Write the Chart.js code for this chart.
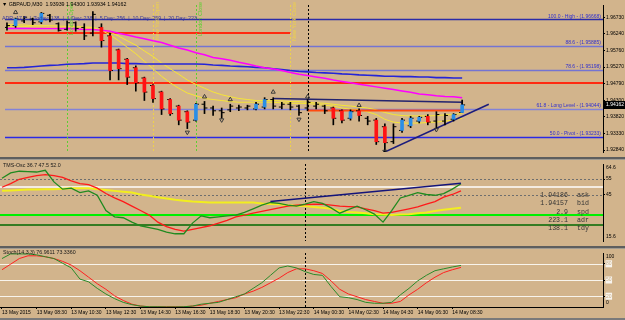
<!DOCTYPE html>
<html lang="en">
<head>
<meta charset="UTF-8">
<title>GBPAUD,M30</title>
<script src="https://cdn.jsdelivr.net/npm/chart.js"></script>
<style>
  body { margin: 0; background: #d2b48c; }
  #wrap { position: relative; width: 625px; height: 320px; overflow: hidden; background: #d2b48c;
          font-family: 'Liberation Sans', Arial, sans-serif; }
  #wrap canvas { position: absolute; left: 0; }
  .sep { position: absolute; left: 0; width: 625px; height: 3px; background: #5e5e5e;
         border-bottom: 1px solid #a09a90; box-sizing: border-box; z-index: 3; }
  .txt { position: absolute; white-space: pre; font-size: 5.3px; line-height: 6px; z-index: 4; }
  .info { position: absolute; white-space: pre; font-family: 'Liberation Mono', monospace;
          font-size: 6.6px; line-height: 8px; color: #333; z-index: 4; }
</style>
</head>
<body>
<div id="wrap">
  <canvas id="main" width="625" height="157" style="top:0"></canvas>
  <canvas id="osc" width="625" height="85" style="top:160px"></canvas>
  <canvas id="stoch" width="625" height="69" style="top:249px"></canvas>

  <div class="sep" style="top:157px"></div>
  <div class="sep" style="top:246px"></div>
  <div class="sep" style="top:318px; height:2px; background:#7a7a7a; border:0"></div>

  <div class="txt" style="left:2px; top:1px; color:#000">&#9660; GBPAUD,M30  1.93939 1.94300 1.93934 1.94162</div>
  <div class="txt" style="left:2px; top:15px; color:#3a3a9a">ADR: 17.5  |  Today: 138  |  1 Day: 238  |  5 Day: 256  |  10 Day: 259  |  20 Day: 223</div>
  <div class="txt" style="left:3px; top:162px; color:#1a1a1a">TMS-Osc 36.7 47.5 52.0</div>
  <div class="txt" style="left:3px; top:249px; color:#1a1a1a">Stoch(14,3,3) 76.9611 73.3360</div>
  <div id="info"></div>
</div>

<script>
// ---- data ----
const timeLabels = ['13 May 2015', '13 May 08:30', '13 May 10:30', '13 May 12:30', '13 May 14:30',
  '13 May 16:30', '13 May 18:30', '13 May 20:30', '13 May 22:30', '14 May 00:30',
  '14 May 02:30', '14 May 04:30', '14 May 06:30', '14 May 08:30'];
const timeTickIdx = [0, 4, 8, 12, 16, 20, 24, 28, 32, 36, 40, 44, 48, 52];
const priceTicks = [1.96730, 1.96240, 1.95760, 1.95270, 1.94790, 1.94300, 1.93820, 1.93330, 1.92840];

const barOpen = [1.96429, 1.96483, 1.96620, 1.96675, 1.96593, 1.96785, 1.96538, 1.96374, 1.96566, 1.96429,
  1.96264, 1.96429, 1.96182, 1.95771, 1.95497, 1.95250, 1.94949, 1.94730, 1.94538, 1.94319,
  1.94127, 1.93963, 1.93716, 1.94182, 1.94072, 1.93990, 1.94017, 1.94072, 1.94072, 1.94045,
  1.94100, 1.94319, 1.94100, 1.94182, 1.94127, 1.94072, 1.94127, 1.94127, 1.94072, 1.93990,
  1.93771, 1.93990, 1.93771, 1.93716, 1.93524, 1.93086, 1.93415, 1.93552, 1.93689, 1.93826,
  1.93689, 1.93689, 1.93743, 1.93939];
const barHigh = [1.96566, 1.96703, 1.96757, 1.96703, 1.96867, 1.96812, 1.96566, 1.96620, 1.96593, 1.96538,
  1.96894, 1.96538, 1.96264, 1.95798, 1.95524, 1.95305, 1.94976, 1.94757, 1.94565, 1.94346,
  1.94154, 1.93990, 1.94209, 1.94264, 1.94127, 1.94072, 1.94182, 1.94154, 1.94154, 1.94237,
  1.94374, 1.94374, 1.94237, 1.94237, 1.94154, 1.94319, 1.94237, 1.94154, 1.94100, 1.94017,
  1.94017, 1.94045, 1.93826, 1.93771, 1.93606, 1.93606, 1.93771, 1.93826, 1.93826, 1.93880,
  1.93963, 1.93908, 1.93908, 1.94300];
const barLow = [1.96346, 1.96429, 1.96566, 1.96511, 1.96538, 1.96593, 1.96319, 1.96346, 1.96319, 1.96072,
  1.96182, 1.95853, 1.94894, 1.94894, 1.94757, 1.94565, 1.94291, 1.94237, 1.93880, 1.93853,
  1.93579, 1.93469, 1.93689, 1.93908, 1.93853, 1.93771, 1.93963, 1.93990, 1.94017, 1.94017,
  1.94045, 1.94045, 1.94045, 1.94017, 1.93853, 1.93990, 1.94045, 1.93908, 1.93579, 1.93634,
  1.93716, 1.93689, 1.93579, 1.93004, 1.92784, 1.93031, 1.93360, 1.93497, 1.93634, 1.93579,
  1.93497, 1.93579, 1.93689, 1.93934];
const barClose = [1.96483, 1.96675, 1.96730, 1.96566, 1.96840, 1.96648, 1.96346, 1.96566, 1.96401, 1.96182,
  1.96812, 1.96045, 1.95168, 1.95223, 1.94976, 1.94812, 1.94538, 1.94346, 1.94045, 1.93908,
  1.93716, 1.93661, 1.94182, 1.94072, 1.93990, 1.93935, 1.94127, 1.94100, 1.94127, 1.94182,
  1.94319, 1.94127, 1.94182, 1.94100, 1.93935, 1.94237, 1.94182, 1.93990, 1.93771, 1.93716,
  1.93963, 1.93853, 1.93689, 1.93086, 1.93058, 1.93524, 1.93716, 1.93771, 1.93798, 1.93661,
  1.93880, 1.93853, 1.93880, 1.94162];
// heiken ashi body colour per bar: r = bear, b = bull, '' = none
const haColor = ['', 'b', '', '', 'b', '', '', '', '', '', '',
  'r', 'r', 'r', 'r', 'r', 'r', 'r', 'r', 'r', 'r', 'r',
  'b', '', '', '', '', '', '', 'b', 'b', '', '', '', '', '', '', '',
  'r', 'r', 'b', 'r', '', 'r', 'r', '', 'b', 'b', 'b', 'r', '', '', 'b', 'b'];

const maMagenta = [1.9640, 1.9640, 1.9640, 1.9640, 1.9640, 1.9640, 1.9640, 1.9640, 1.9639, 1.9637,
  1.9637, 1.9635, 1.9632, 1.9626, 1.9621, 1.9615, 1.9610, 1.9604, 1.9599, 1.9591,
  1.9583, 1.9577, 1.9569, 1.9563, 1.9555, 1.9551, 1.9547, 1.9541, 1.9536, 1.9530,
  1.9525, 1.9521, 1.9517, 1.9511, 1.9506, 1.9502, 1.9498, 1.9494, 1.9489, 1.9485,
  1.9481, 1.9477, 1.9473, 1.9469, 1.9465, 1.9461, 1.9457, 1.9453, 1.9448, 1.9446,
  1.9443, 1.9441, 1.9440, 1.9437];
const maBlue = [1.9525, 1.9525, 1.9526, 1.9528, 1.9530, 1.9532, 1.9533, 1.9535, 1.9536, 1.9537,
  1.9539, 1.9539, 1.9539, 1.9539, 1.9537, 1.9537, 1.9536, 1.9536, 1.9536, 1.9536,
  1.9536, 1.9536, 1.9536, 1.9535, 1.9533, 1.9532, 1.9530, 1.9529, 1.9528, 1.9526,
  1.9525, 1.9522, 1.9520, 1.9517, 1.9514, 1.9513, 1.9511, 1.9510, 1.9509, 1.9507,
  1.9506, 1.9504, 1.9503, 1.9502, 1.9500, 1.9500, 1.9499, 1.9499, 1.9498, 1.9498,
  1.9496, 1.9496, 1.9495, 1.9495];
const maYellowFast = [1.9651, 1.9651, 1.9650, 1.9648, 1.9648, 1.9648, 1.9647, 1.9646, 1.9646, 1.9644,
  1.9643, 1.9635, 1.9621, 1.9604, 1.9585, 1.9566, 1.9544, 1.9522, 1.9500, 1.9481,
  1.9465, 1.9451, 1.9443, 1.9435, 1.9432, 1.9429, 1.9426, 1.9424, 1.9424, 1.9424,
  1.9424, 1.9424, 1.9422, 1.9421, 1.9421, 1.9420, 1.9418, 1.9415, 1.9413, 1.9407,
  1.9404, 1.9402, 1.9396, 1.9388, 1.9374, 1.9366, 1.9363, 1.9363, 1.9363, 1.9365,
  1.9366, 1.9369, 1.9372, 1.9377];
const maYellowSlow = [1.9646, 1.9646, 1.9646, 1.9644, 1.9644, 1.9643, 1.9643, 1.9641, 1.9641, 1.9640,
  1.9640, 1.9635, 1.9629, 1.9618, 1.9604, 1.9591, 1.9574, 1.9558, 1.9539, 1.9522,
  1.9506, 1.9489, 1.9476, 1.9465, 1.9454, 1.9446, 1.9440, 1.9435, 1.9432, 1.9429,
  1.9429, 1.9429, 1.9428, 1.9426, 1.9426, 1.9424, 1.9422, 1.9421, 1.9418, 1.9415,
  1.9413, 1.9410, 1.9407, 1.9402, 1.9394, 1.9388, 1.9385, 1.9384, 1.9384, 1.9384,
  1.9385, 1.9387, 1.9388, 1.9391];

const fibLevels = [1.96668, 1.95885, 1.95198, 1.94044, 1.93233];
const fibNames = ['100.0 - High', '88.6', '78.6', '61.8 - Long Level', '50.0 - Pivot'];
const redLevels = [1.9481, 1.9626];
const redLevelEnd = [null, 33];          // bar index where the line stops (null = right edge)

const upFractalIdx = [1, 23, 26, 31, 35, 41];
const upFractalPrice = [1.9687, 1.9440, 1.9432, 1.9454, 1.9440, 1.9415];
const dnFractalIdx = [21, 25, 34, 44, 50];
const dnFractalPrice = [1.9336, 1.9372, 1.9374, 1.9280, 1.9344];

const trendIdx = [44, 56.1];
const trendPrice = [1.92784, 1.9418];
const boxIdx = [31, 53, 53];
const boxPrice = [1.9435, 1.9424, 1.9399];
const orangeIdx = [35, 53];
const orangePrice = [1.9400, 1.9400];

const sessionIdx = [7, 17, 22, 33];
const sessionNames = ['London Open', 'New York Open', 'London Close', 'New York Close'];
const daySepIdx = 35;

const oscGreen = [55.5, 58.9, 60.0, 59.8, 59.5, 60.6, 53.2, 48.6, 49.2, 46.4,
  47.5, 44.7, 35.0, 31.0, 30.4, 27.6, 25.3, 24.1, 23.0, 21.3,
  20.2, 20.2, 27.0, 31.6, 30.4, 31.0, 31.6, 32.1, 33.8, 36.1,
  38.4, 40.1, 39.5, 38.4, 37.8, 39.0, 40.7, 39.5, 36.7, 33.3,
  35.5, 37.8, 35.5, 32.7, 27.6, 35.0, 43.0, 44.7, 46.4, 45.2,
  44.7, 45.8, 48.6, 52.0];
const oscRed = [49.8, 52.1, 54.9, 56.1, 57.2, 57.8, 57.2, 56.1, 53.8, 52.1,
  51.5, 49.2, 45.8, 43.0, 40.7, 37.8, 35.0, 32.1, 27.6, 24.7,
  23.0, 21.9, 23.0, 24.1, 25.3, 27.0, 28.7, 31.0, 32.1, 33.3,
  34.4, 35.5, 36.7, 37.8, 38.4, 38.7, 39.0, 39.0, 38.4, 37.8,
  37.5, 37.3, 36.1, 35.0, 33.3, 33.8, 35.0, 36.1, 37.3, 39.0,
  40.7, 43.5, 45.2, 47.5];
const oscYellow = [47.5, 47.8, 48.1, 48.4, 48.4, 48.6, 48.6, 48.9, 49.2, 49.2,
  49.2, 48.6, 48.1, 47.5, 46.9, 46.4, 45.2, 44.4, 43.5, 42.7,
  41.8, 41.2, 40.7, 40.4, 40.1, 40.1, 40.1, 40.1, 40.1, 40.1,
  39.5, 39.2, 39.0, 38.4, 38.1, 37.8, 37.3, 36.7, 36.1, 34.7,
  34.1, 33.8, 33.3, 32.7, 32.4, 32.1, 32.4, 32.7, 33.3, 33.8,
  34.7, 35.5, 36.1, 36.7];
const oscTrendIdx = [31, 53];
const oscTrendVal = [40.8, 52.3];
const oscTicks = [55, 45];
const oscRange = [15.6, 64.6];
const oscDotLevels = [55, 45];
const oscLevels = [50, 32, 25.5];

const stochMain = [89.7, 98.3, 98.3, 98.3, 96.6, 93.1, 89.7, 81.0, 72.4, 51.7,
  46.6, 34.5, 24.1, 15.5, 8.6, 4.3, 1.7, 0.5, 0.5, 0.2,
  0.2, 0.5, 1.7, 5.2, 6.9, 8.6, 13.8, 19.0, 24.1, 34.5,
  44.8, 58.6, 72.4, 75.9, 72.4, 65.5, 60.3, 58.6, 37.9, 19.0,
  17.2, 13.8, 8.6, 6.9, 6.9, 8.6, 22.4, 34.5, 48.3, 58.6,
  67.2, 70.7, 74.1, 76.9611];
const stochSignal = [69.0, 79.3, 89.7, 94.8, 94.8, 93.1, 89.7, 84.5, 77.6, 67.2,
  55.2, 43.1, 32.8, 20.7, 12.1, 5.2, 1.7, 0.5, 0.5, 0.5,
  0.5, 0.5, 1.7, 3.4, 6.9, 10.3, 13.8, 17.2, 24.1, 29.3,
  36.2, 44.8, 53.4, 63.8, 70.7, 70.7, 67.2, 62.1, 48.3, 32.8,
  24.1, 19.0, 13.8, 10.3, 6.9, 6.9, 10.3, 22.4, 32.8, 44.8,
  55.2, 63.8, 69.0, 73.336];
const stochLevels = [80, 50, 20];

const infoValues = ['1.94186', '1.94157', '2.9', '223.1', '138.1'];
const infoNames = ['ask', 'bid', 'spd', 'adr', 'tdy'];

// ---- helpers ----
const FONT = "'Liberation Sans', Arial, sans-serif";
const X_MIN = -0.23, X_MAX = 69.4;
const idx = barOpen.map((_, i) => i);
const pts = arr => arr.map((v, i) => ({ x: i, y: v }));
const pairs = (xs, ys) => xs.map((x, k) => ({ x, y: ys[k] }));

function xAxis(show) {
  const ax = { type: 'linear', min: X_MIN, max: X_MAX, offset: false, display: show,
    grid: { drawOnChartArea: false, tickLength: 2, color: '#000' },
    border: { display: show, color: '#000' } };
  if (show) {
    ax.afterBuildTicks = s => { s.ticks = timeTickIdx.map(v => ({ value: v })); };
    ax.afterFit = s => { s.height = 11; };
    ax.ticks = { autoSkip: false, maxRotation: 0, minRotation: 0, align: 'start', padding: 1,
      color: '#000', font: { family: FONT, size: 5 }, callback: (v, i) => timeLabels[i] };
  }
  return ax;
}

function yAxis(min, max, ticks, fmt, tickOpts) {
  return { position: 'right', min, max, beginAtZero: false,
    afterFit: s => { s.width = 22; },
    afterBuildTicks: s => { s.ticks = ticks.map(v => ({ value: v })); },
    ticks: Object.assign({ color: '#000', padding: 1, font: { family: FONT, size: 5 }, callback: fmt }, tickOpts || {}),
    grid: { drawOnChartArea: false, tickLength: 2, color: '#000' },
    border: { display: true, color: '#000' } };
}

function opts(scales) {
  return { responsive: false, animation: false, events: [], layout: { padding: 0 },
    plugins: { legend: { display: false }, tooltip: { enabled: false } }, scales };
}

function hLine(ctx, x0, x1, y) { ctx.beginPath(); ctx.moveTo(x0, y); ctx.lineTo(x1, y); ctx.stroke(); }
function vLine(ctx, x, y0, y1) { ctx.beginPath(); ctx.moveTo(x, y0); ctx.lineTo(x, y1); ctx.stroke(); }

function daySep(chart) {
  const { ctx, chartArea: a, scales: { x } } = chart;
  const px = Math.round(x.getPixelForValue(daySepIdx)) + 0.5;
  ctx.save();
  ctx.strokeStyle = '#000'; ctx.lineWidth = 1; ctx.setLineDash([2, 2]);
  vLine(ctx, px, a.top, a.bottom);
  ctx.restore();
}

function edgeLabels(chart, top, bottom) {
  const { ctx, chartArea: a } = chart;
  ctx.save();
  ctx.fillStyle = '#000'; ctx.font = '5px ' + FONT; ctx.textAlign = 'left'; ctx.textBaseline = 'middle';
  ctx.fillText(top, a.right + 3, a.top + 4);
  ctx.fillText(bottom, a.right + 3, a.bottom - 4);
  ctx.restore();
}

// ---- main price pane ----
const fibStyle = [['#2b2ba8', 1.3], ['#7474d2', 1.6], ['#7474d2', 1.6], ['#8282d8', 1.4], ['#2a2ae6', 1.3]];
const sessionColor = ['#5ccf32', '#eed24a', '#5ccf32', '#eed24a'];

const mainDecor = {
  id: 'mainDecor',
  beforeDatasetsDraw(chart) {
    const { ctx, chartArea: a, scales: { x, y } } = chart;
    ctx.save();
    fibLevels.forEach((lv, k) => {
      ctx.strokeStyle = fibStyle[k][0]; ctx.lineWidth = fibStyle[k][1];
      hLine(ctx, a.left, a.right, Math.round(y.getPixelForValue(lv)) + 0.5);
    });
    ctx.strokeStyle = '#ff2a10'; ctx.lineWidth = 2;
    redLevels.forEach((lv, k) => {
      const xe = redLevelEnd[k] == null ? a.right : x.getPixelForValue(redLevelEnd[k]);
      hLine(ctx, a.left, xe, Math.round(y.getPixelForValue(lv)));
    });
    ctx.lineWidth = 1; ctx.setLineDash([2, 2]);
    sessionIdx.forEach((si, k) => {
      ctx.strokeStyle = sessionColor[k];
      vLine(ctx, Math.round(x.getPixelForValue(si)) + 0.5, a.top, a.bottom);
    });
    ctx.restore();
    daySep(chart);
  },
  afterDraw(chart) {
    const { ctx, chartArea: a, scales: { x, y } } = chart;
    ctx.save();
    ctx.font = '5px ' + FONT; ctx.fillStyle = '#2f2fd0';
    ctx.textAlign = 'right'; ctx.textBaseline = 'bottom';
    fibLevels.forEach((lv, k) => {
      ctx.fillText(fibNames[k] + ' - (' + lv.toFixed(5) + ')', a.right - 2, y.getPixelForValue(lv) - 0.5);
    });
    ctx.font = '5.5px ' + FONT; ctx.textBaseline = 'top';
    sessionIdx.forEach((si, k) => {
      ctx.save();
      ctx.translate(Math.round(x.getPixelForValue(si)) + 1.5, 2);
      ctx.rotate(-Math.PI / 2);
      ctx.fillStyle = sessionColor[k];
      ctx.fillText(sessionNames[k], 0, 0);
      ctx.restore();
    });
    const last = barClose[barClose.length - 1];
    const py = Math.round(y.getPixelForValue(last));
    ctx.fillStyle = '#000';
    ctx.fillRect(a.right, py - 4, chart.width - a.right, 8);
    ctx.fillStyle = '#fff'; ctx.textAlign = 'left'; ctx.textBaseline = 'middle'; ctx.font = '5px ' + FONT;
    ctx.fillText(last.toFixed(5), a.right + 3, py);
    ctx.restore();
  }
};

const lineDs = (data, color, width, order) => ({ type: 'line', data, borderColor: color, borderWidth: width,
  pointRadius: 0, tension: 0, fill: false, order });
const fractalDs = (xs, ys, rot) => ({ type: 'scatter', data: pairs(xs, ys), pointStyle: 'triangle',
  pointRadius: 2.4, rotation: rot, borderColor: '#3a3a3a', borderWidth: 1,
  backgroundColor: 'rgba(0,0,0,0)', order: 0 });

new Chart(document.getElementById('main'), {
  type: 'bar',
  data: { datasets: [
    fractalDs(upFractalIdx, upFractalPrice, 0),
    fractalDs(dnFractalIdx, dnFractalPrice, 180),
    { type: 'bar', data: idx.filter(i => haColor[i] === 'r').map(i => ({ x: i, y: [barOpen[i], barClose[i]] })),
      backgroundColor: '#ff1414', barThickness: 3, grouped: false, borderWidth: 0, order: 1 },
    { type: 'bar', data: idx.filter(i => haColor[i] === 'b').map(i => ({ x: i, y: [barOpen[i], barClose[i]] })),
      backgroundColor: '#2a8ee6', barThickness: 3, grouped: false, borderWidth: 0, order: 1 },
    { type: 'scatter', data: idx.map(i => ({ x: i - 0.17, y: barOpen[i] })), pointStyle: 'line',
      pointRadius: 1.5, borderColor: '#000', borderWidth: 1, order: 2 },
    { type: 'scatter', data: idx.map(i => ({ x: i + 0.17, y: barClose[i] })), pointStyle: 'line',
      pointRadius: 1.5, borderColor: '#000', borderWidth: 1, order: 2 },
    { type: 'bar', data: idx.map(i => ({ x: i, y: [barLow[i], barHigh[i]] })),
      backgroundColor: '#000', barThickness: 1, grouped: false, borderWidth: 0, order: 3 },
    lineDs(pairs(trendIdx, trendPrice), '#1c1c7c', 1.5, 4),
    lineDs(pairs(boxIdx, boxPrice), '#23236e', 1.5, 4),
    lineDs(pairs(orangeIdx, orangePrice), '#ff4a10', 2, 4),
    lineDs(pts(maMagenta), '#ff00ff', 1.5, 5),
    lineDs(pts(maBlue), '#2424d8', 1.6, 5),
    lineDs(pts(maYellowFast), '#f6e636', 1, 5),
    lineDs(pts(maYellowSlow), '#f6e636', 1, 5)
  ] },
  options: opts({ x: xAxis(false), y: yAxis(1.92784, 1.97086, priceTicks, v => v.toFixed(5)) }),
  plugins: [mainDecor]
});

// ---- TMS oscillator pane ----
const oscDecor = {
  id: 'oscDecor',
  beforeDatasetsDraw(chart) {
    const { ctx, chartArea: a, scales: { y } } = chart;
    const style = [['#ffffff', 1.6], ['#00f000', 2], ['#006a00', 1.5]];
    ctx.save();
    ctx.strokeStyle = '#6e6e6e'; ctx.lineWidth = 1; ctx.setLineDash([2, 2]);
    oscDotLevels.forEach(v => hLine(ctx, a.left, a.right, Math.round(y.getPixelForValue(v)) + 0.5));
    ctx.setLineDash([]);
    oscLevels.forEach((v, k) => {
      ctx.strokeStyle = style[k][0]; ctx.lineWidth = style[k][1];
      hLine(ctx, a.left, a.right, Math.round(y.getPixelForValue(v)));
    });
    ctx.restore();
    daySep(chart);
  },
  afterDraw(chart) { edgeLabels(chart, oscRange[1].toFixed(1), oscRange[0].toFixed(1)); }
};

new Chart(document.getElementById('osc'), {
  type: 'line',
  data: { datasets: [
    lineDs(pairs(oscTrendIdx, oscTrendVal), '#14147a', 1.5, 0),
    lineDs(pts(oscGreen), '#1f8a1f', 1.3, 1),
    lineDs(pts(oscRed), '#ff1a1a', 1.3, 2),
    lineDs(pts(oscYellow), '#f2ee1e', 2, 3)
  ] },
  options: opts({ x: xAxis(false), y: yAxis(oscRange[0], oscRange[1], oscTicks, v => String(v)) }),
  plugins: [oscDecor]
});

// ---- stochastic pane ----
const stochDecor = {
  id: 'stochDecor',
  beforeDatasetsDraw(chart) {
    const { ctx, chartArea: a, scales: { y } } = chart;
    ctx.save();
    ctx.strokeStyle = '#f8f4ec'; ctx.lineWidth = 1;
    stochLevels.forEach(v => hLine(ctx, a.left, a.right, Math.round(y.getPixelForValue(v)) + 0.5));
    ctx.restore();
    daySep(chart);
  },
  afterDraw(chart) { edgeLabels(chart, '100', '0'); }
};

new Chart(document.getElementById('stoch'), {
  type: 'line',
  data: { datasets: [
    lineDs(pts(stochMain), '#2a8a2a', 1, 0),
    lineDs(pts(stochSignal), '#ff2020', 1, 1)
  ] },
  options: opts({ x: xAxis(true), y: yAxis(0, 100, stochLevels, v => String(v),
    { color: '#c9b08a', showLabelBackdrop: true, backdropColor: 'rgba(255,255,255,0.85)', backdropPadding: 0.5 }) }),
  plugins: [stochDecor]
});

// ---- market info block ----
const info = document.getElementById('info');
infoValues.forEach((v, k) => {
  const top = 192 + k * 8.3;
  info.insertAdjacentHTML('beforeend',
    '<div class="info" style="right:57px; top:' + top + 'px">' + v + '</div>' +
    '<div class="info" style="left:577px; top:' + top + 'px">' + infoNames[k] + '</div>');
});
</script>
</body>
</html>
